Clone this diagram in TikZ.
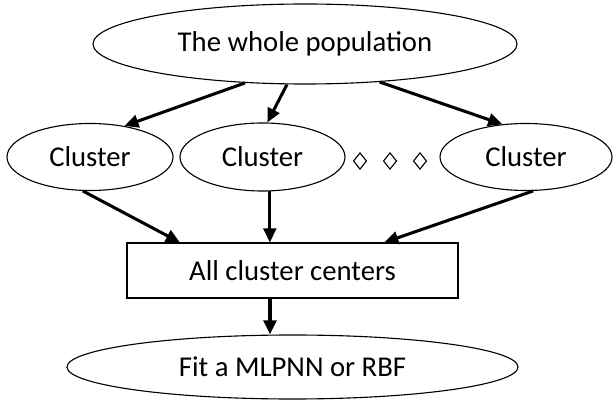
\documentclass[tikz,border=0pt]{standalone}
\usepackage{fontspec}
\setmainfont{Carlito}
\usetikzlibrary{arrows.meta, shapes.geometric}
\tikzset{
  every picture/.style={line width=0.95pt},
  oval/.style={ellipse, draw, inner sep=0pt, font=\fontsize{24.5}{28}\selectfont},
  box/.style={rectangle, draw, inner sep=0pt, font=\fontsize{24.5}{28}\selectfont},
  arrow/.style={-{Triangle[length=4.2mm, width=3.8mm]}, line width=2.6pt},
  dot/.style={diamond, draw, inner sep=0pt, minimum width=0.4cm, minimum height=0.5cm, line width=0.95pt},
}

\begin{document}
\begin{tikzpicture}[x=0.03cm, y=-0.03cm]
  \useasboundingbox (0,0) rectangle (615,401);
  % the whole population
  \node[oval, minimum width=12.72cm, minimum height=2.4cm] (pop) at (305,44) {The whole population};
  % clusters
  \node[oval, minimum width=4.98cm, minimum height=2.01cm] (c1) at (90,157) {Cluster};
  \node[oval, minimum width=4.95cm, minimum height=2.04cm] (c2) at (262.5,157) {Cluster};
  \node[oval, minimum width=5.16cm, minimum height=2.01cm] (c3) at (526,157) {Cluster};
  \foreach \i/\x in {1/360,2/390,3/420}
    \node[dot] (d\i) at (\x,161) {};
  % centres and fit
  \node[box, minimum width=9.93cm, minimum height=1.65cm] (ctr) at (292.5,270.5) {All cluster centers};
  \node[oval, minimum width=13.53cm, minimum height=1.92cm] (fit) at (292.5,367) {Fit a MLPNN or RBF};
  \draw[arrow] (pop.213) -- (c1.42);
  \draw[arrow] (pop.246) -- (c2.82);
  \draw[arrow] (pop.333) -- (c3.126);
  \draw[arrow] (c1.258) -- (ctr.166);
  \draw[arrow] (c2.282) -- (c2.282 |- ctr.north);
  \draw[arrow] (c3.282) -- (ctr.17);
  \draw[arrow] ([xshift=-0.675cm]ctr.south) -- ([xshift=-0.675cm]fit.north);
\end{tikzpicture}
\end{document}
